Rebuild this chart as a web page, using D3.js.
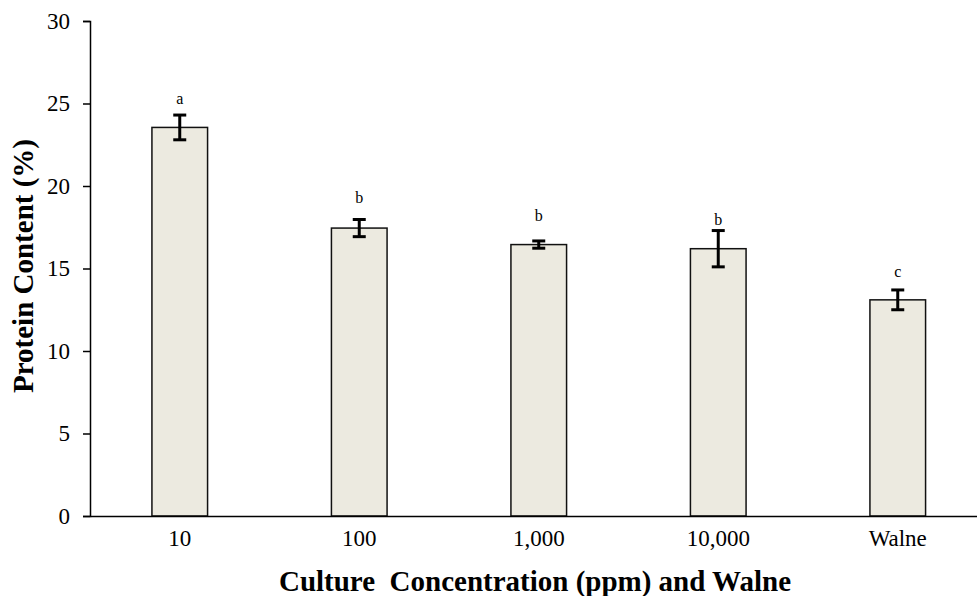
<!DOCTYPE html>
<html>
<head>
<meta charset="utf-8">
<script src="https://cdn.jsdelivr.net/npm/d3@7"></script>
<style>
  body { margin: 0; background: #fff; }
  svg text { font-family: "Liberation Serif", "Times New Roman", serif; fill: #000; }
</style>
</head>
<body>
<svg id="chart"></svg>
<script>
const categories = ['10', '100', '1,000', '10,000', 'Walne'];
const values = [23.55, 17.45, 16.45, 16.2, 13.1];
const errors = [0.75, 0.52, 0.22, 1.1, 0.6];
const letters = ['a', 'b', 'b', 'b', 'c'];
const letterY = [25.3, 19.3, 18.2, 18.0, 14.8];
const yTicks = [0, 5, 10, 15, 20, 25, 30];

window.addEventListener('load', () => {
  const width = 977;
  const height = 596;

  const svg = d3.select('svg#chart')
    .attr('width', width)
    .attr('height', height);

  const xScale = d3.scaleBand()
    .domain(categories)
    .range([90, 987.5])
    .paddingInner(0.69)
    .paddingOuter(0.345);

  const yScale = d3.scaleLinear()
    .domain([0, 30])
    .range([516, 21]);

  // bars
  svg.selectAll('rect.bar')
    .data(categories)
    .enter()
    .append('rect')
    .attr('class', 'bar')
    .attr('x', d => xScale(d))
    .attr('width', xScale.bandwidth())
    .attr('y', (d, i) => yScale(values[i]))
    .attr('height', (d, i) => yScale(0) - yScale(values[i]))
    .attr('fill', '#ECEAE0')
    .attr('stroke', '#111')
    .attr('stroke-width', 1.5);

  // error bars
  const cx = d => xScale(d) + xScale.bandwidth() / 2;
  const err = svg.append('g').attr('stroke', '#000').attr('stroke-width', 3);
  categories.forEach((d, i) => {
    const top = yScale(values[i] + errors[i]);
    const bot = yScale(values[i] - errors[i]);
    err.append('line').attr('x1', cx(d)).attr('x2', cx(d)).attr('y1', top).attr('y2', bot);
    err.append('line').attr('x1', cx(d) - 6.5).attr('x2', cx(d) + 6.5).attr('y1', top).attr('y2', top);
    err.append('line').attr('x1', cx(d) - 6.5).attr('x2', cx(d) + 6.5).attr('y1', bot).attr('y2', bot);
  });

  // significance letters
  svg.selectAll('text.letter')
    .data(categories)
    .enter()
    .append('text')
    .attr('class', 'letter')
    .attr('x', d => cx(d))
    .attr('y', (d, i) => yScale(letterY[i]))
    .attr('dy', '0.35em')
    .attr('text-anchor', 'middle')
    .style('font-size', '16px')
    .text((d, i) => letters[i]);

  // y axis
  const yAxis = svg.append('g')
    .attr('transform', 'translate(90,0)')
    .call(d3.axisLeft(yScale).tickValues(yTicks).tickSize(7).tickPadding(13));
  yAxis.selectAll('text').style('font-size', '23px');
  yAxis.selectAll('line, path').attr('stroke', '#000').attr('stroke-width', 1.5);

  // x axis
  const xAxis = svg.append('g')
    .attr('transform', 'translate(0,516)')
    .call(d3.axisBottom(xScale).tickSize(0).tickPadding(14));
  xAxis.selectAll('text').style('font-size', '23px');
  xAxis.select('path').attr('stroke', '#000').attr('stroke-width', 1.5);

  // axis titles
  svg.append('text')
    .attr('x', 535)
    .attr('y', 591)
    .attr('text-anchor', 'middle')
    .style('font-size', '29px')
    .style('font-weight', 'bold')
    .style('white-space', 'pre')
    .text('Culture  Concentration (ppm) and Walne');

  svg.append('text')
    .attr('transform', 'translate(33,266) rotate(-90)')
    .attr('text-anchor', 'middle')
    .style('font-size', '29px')
    .style('font-weight', 'bold')
    .text('Protein Content (%)');
});
</script>
</body>
</html>
